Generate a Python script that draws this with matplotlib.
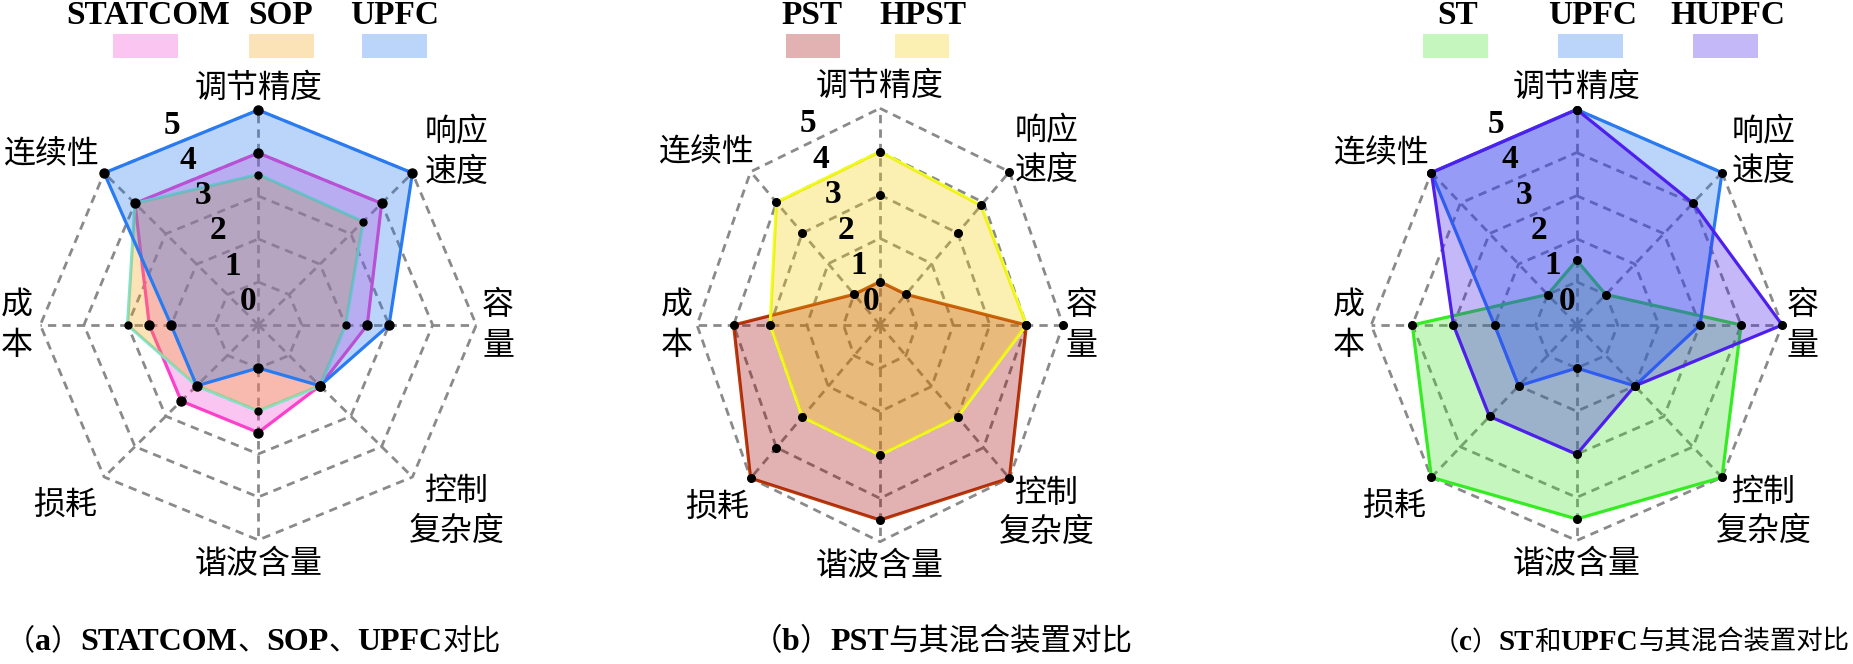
import numpy as np
import matplotlib
matplotlib.use('Agg')
import matplotlib.pyplot as plt
from matplotlib.patches import Rectangle

plt.rcParams['font.family'] = ['Liberation Serif', 'Noto Sans CJK SC']

# ---------------- data ----------------
categories = ['调节精度', '响应速度', '容量', '控制复杂度', '谐波含量', '损耗', '成本', '连续性']
cat_labels = ['调节精度', '响应\n速度', '容\n量', '控制\n复杂度', '谐波含量', '损耗', '成\n本', '连续性']
r_ticks = [0, 1, 2, 3, 4, 5]

# panel (a)
statcom = [4, 4, 2.5, 2, 2.5, 2.5, 2.5, 4]
sop     = [3.5, 3.4, 2, 2, 2, 2, 3, 4]
upfc    = [5, 5, 3, 2, 1, 2, 2, 5]
# panel (b)
pst  = [1, 1, 4, 5, 4.5, 5, 4, 1]
hpst = [4, 3.9, 4, 3, 3, 3, 3, 4]
b_extra_idx  = [0, 1, 1, 2, 5, 7]
b_extra_vals = [3, 3, 5, 5, 4, 3]
# panel (c)
st    = [1.5, 1, 4, 5, 4.5, 5, 4, 1]
hupfc = [5, 4, 5, 2, 3, 3, 3, 5]

# captions as (text, kind) runs: 'L' latin, 'C' chinese
cap_a = [('（', 'C'), ('a', 'L'), ('）', 'C'), ('STATCOM', 'L'), ('、', 'C'), ('SOP', 'L'),
         ('、', 'C'), ('UPFC', 'L'), ('对比', 'C')]
cap_b = [('（', 'C'), ('b', 'L'), ('）', 'C'), ('PST', 'L'), ('与其混合装置对比', 'C')]
cap_c = [('（', 'C'), ('c', 'L'), ('）', 'C'), ('ST', 'L'), ('和', 'C'), ('UPFC', 'L'),
         ('与其混合装置对比', 'C')]

# ---------------- layout ----------------
W, H = 1853, 664
fig = plt.figure(figsize=(W / 100, H / 100), dpi=100)

N = len(categories)
theta = np.arange(N) * 2 * np.pi / N
theta_c = np.append(theta, theta[0])

# label positions (theta in deg, r in data units)
lab_pos = [(0, 5.52), (48.5, 6.07), (90, 5.5), (133.5, 6.29), (180, 5.55),
           (226.7, 6.1), (270, 5.55), (-50.0, 6.2)]

CJK = ['Noto Sans CJK SC']
LAT = ['Liberation Serif']
GRID = '#8a8a8a'


def make_ax(cx, cy, rx, ry):
    ax = fig.add_axes([(cx - rx) / W, (H - cy - ry) / H, 2 * rx / W, 2 * ry / H],
                      projection='polar')
    ax.set_aspect('auto')
    ax.set_theta_zero_location('N')
    ax.set_theta_direction(-1)
    ax.set_ylim(0, 5)
    ax.grid(False)
    ax.set_xticks([])
    ax.set_yticks([])
    ax.spines['polar'].set_visible(False)
    ax.patch.set_alpha(0)
    # octagon grid
    for r in r_ticks[1:]:
        ax.plot(theta_c, [r] * (N + 1), color=GRID, lw=2.0, ls=(0, (3, 2.2)),
                clip_on=False, zorder=1)
    for t in theta:
        ax.plot([t, t], [0, 5], color=GRID, lw=2.0, ls=(0, (3, 2.2)),
                clip_on=False, zorder=1)
    # category labels
    for lab, (td, rr) in zip(cat_labels, lab_pos):
        ax.text(np.deg2rad(td), rr, lab, family=CJK, fontsize=23, ha='center',
                va='center', linespacing=1.3, zorder=5)
    # radial tick labels
    for v in r_ticks:
        ax.text(np.deg2rad(-23), 0.6 + 0.89 * v, str(v), fontsize=24,
                fontweight='bold', ha='center', va='center', zorder=6)
    return ax


def series(ax, vals, fill_c, line_c, ms, z):
    v = list(vals) + [vals[0]]
    ax.plot(theta_c, v, color=line_c, lw=2.3, clip_on=False, zorder=z)
    ax.fill(theta_c, v, color=fill_c, alpha=0.3, lw=0, clip_on=False, zorder=z)
    ax.plot(theta, vals, ls='none', marker='o', ms=ms, color='black',
            clip_on=False, zorder=10)


def legend(items, y_text=15, y0=34.3, h=23.4):
    for name, tx, px, pw, col in items:
        fig.text(tx / W, 1 - y_text / H, name, fontsize=24, fontweight='bold',
                 ha='center', va='center')
        fig.patches.append(Rectangle(((px - pw / 2) / W, 1 - (y0 + h) / H), pw / W, h / H,
                                     transform=fig.transFigure, facecolor=col,
                                     alpha=0.3, edgecolor='none'))


renderer = fig.canvas.get_renderer()


def caption(runs, x, y, align, fs_lat, fs_cjk):
    texts = []
    for s, k in runs:
        if k == 'L':
            t = fig.text(0, 1 - y / H, s, family=LAT, fontsize=fs_lat, fontweight='bold',
                         ha='left', va='baseline')
        else:
            t = fig.text(0, 1 - y / H, s, family=CJK, fontsize=fs_cjk,
                         ha='left', va='baseline')
        texts.append(t)
    widths = [t.get_window_extent(renderer).width for t in texts]
    total = sum(widths)
    x0 = {'left': x, 'center': x - total / 2, 'right': x - total}[align]
    for t, w in zip(texts, widths):
        t.set_x(x0 / W)
        x0 += w


C_STATCOM = ('#f541d4', '#ff40c8')
C_SOP = ('#f2a212', '#7fe5d0')
C_UPFC = ('#1f77f0', '#2b7cf2')
C_PST = ('#a00000', '#b83c0c')
C_HPST = ('#f8cd02', '#eeff22')
C_ST = ('#3ee426', '#33ee22')
C_HUPFC = ('#4116ee', '#5022ee')

# panel (a)
ax1 = make_ax(258.3, 325, 218, 215)
series(ax1, statcom, *C_STATCOM, 6.5, 2)
series(ax1, sop, *C_SOP, 5.0, 3)
series(ax1, upfc, *C_UPFC, 6.5, 4)
legend([('STATCOM', 148, 145.5, 64.4, C_STATCOM[0]),
        ('SOP', 281, 281.7, 64.4, C_SOP[0]),
        ('UPFC', 394.7, 394.5, 64.4, C_UPFC[0])])

# panel (b)
ax2 = make_ax(880, 325, 183, 216.7)
series(ax2, pst, *C_PST, 5.5, 2)
series(ax2, hpst, *C_HPST, 5.5, 3)
ax2.plot(theta[b_extra_idx], b_extra_vals, ls='none', marker='o', ms=5.5,
         color='black', clip_on=False, zorder=10)
legend([('PST', 811.7, 812.8, 54.3, C_PST[0]),
        ('HPST', 923.3, 922.2, 54.3, C_HPST[0])])

# panel (c)
ax3 = make_ax(1576.7, 325, 205.5, 215.5)
series(ax3, st, *C_ST, 5.5, 2)
series(ax3, upfc, *C_UPFC, 5.5, 3)
series(ax3, hupfc, *C_HUPFC, 5.5, 4)
legend([('ST', 1457.5, 1455, 65, C_ST[0]),
        ('UPFC', 1592.5, 1590, 65, C_UPFC[0]),
        ('HUPFC', 1728, 1725, 65, C_HUPFC[0])])

# captions
caption(cap_a, 6, 650, 'left', 23, 21)
caption(cap_b, 942, 650, 'center', 23, 22)
caption(cap_c, 1849, 650, 'right', 21, 19)

fig.savefig('out.png', dpi=100)
